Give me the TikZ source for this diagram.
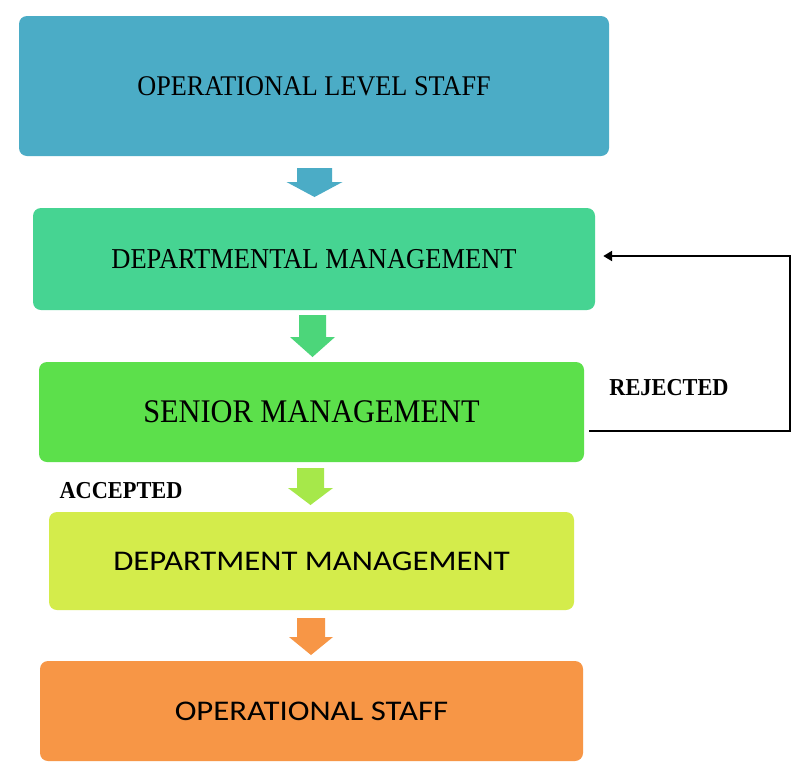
\documentclass[tikz,border=0pt]{standalone}
\usepackage{fontspec}
\setmainfont[FakeStretch=0.92]{Liberation Serif}
\newfontfamily\sansw[FakeStretch=1.15]{Carlito}
\usetikzlibrary{arrows.meta,calc}
\definecolor{cBoxA}{HTML}{4BACC6}
\definecolor{cBoxB}{HTML}{46D492}
\definecolor{cBoxC}{HTML}{5CE04B}
\definecolor{cBoxD}{HTML}{D4EC4B}
\definecolor{cBoxE}{HTML}{F79646}
\definecolor{cArrB}{HTML}{4CD67A}
\definecolor{cArrC}{HTML}{A6E84A}
\tikzset{
  box/.style={rounded corners=8pt, inner sep=0pt, text=black, align=center},
  fb/.style={line width=2.8pt, -{Triangle[length=9pt,width=10pt]}},
  lbl/.style={font=\bfseries\fontsize{24.3}{26}\selectfont, inner sep=0pt, text=black}
}
\newcommand\blkarrow[7]{%
  \fill[#1] (#2-#6,#3) -- (#2+#6,#3) -- (#2+#6,#4) -- (#2+#7,#4) -- (#2,#5)
    -- (#2-#7,#4) -- (#2-#6,#4) -- cycle;}
\begin{document}
\begin{tikzpicture}[x=1pt,y=-1pt]
\useasboundingbox[fill=white] (0,0) rectangle (805,774);
\node[box, fill=cBoxA, minimum width=590pt, minimum height=140pt,
  font=\fontsize{28.5}{30}\selectfont] (b1) at (314,86) {OPERATIONAL LEVEL STAFF};
\node[box, fill=cBoxB, minimum width=562pt, minimum height=102pt,
  font=\fontsize{28.8}{30}\selectfont] (b2) at (314,259) {DEPARTMENTAL MANAGEMENT};
\node[box, fill=cBoxC, minimum width=545pt, minimum height=100pt,
  font=\fontsize{33}{35}\selectfont] (b3) at (311.5,412) {SENIOR MANAGEMENT};
\node[box, fill=cBoxD, minimum width=525pt, minimum height=98pt,
  font=\sansw\fontsize{28.5}{30}\selectfont] (b4) at (311.5,561) {DEPARTMENT MANAGEMENT};
\node[box, fill=cBoxE, minimum width=543pt, minimum height=100pt,
  font=\sansw\fontsize{28.5}{30}\selectfont] (b5) at (311.5,711) {OPERATIONAL STAFF};
\blkarrow{cBoxA}{314.5}{168}{182}{197}{17.5}{28}
\blkarrow{cArrB}{312.5}{315}{337}{357}{13.5}{22.5}
\blkarrow{cArrC}{310.5}{468}{488}{505}{13.5}{22.5}
\blkarrow{cBoxE}{311}{618}{637}{655}{14}{22}
\coordinate (fbs) at ($(b3.east)+(5,19)$);
\coordinate (fbe) at ($(b2.east)+(8,-3)$);
\draw[fb] (fbs) -- (790,431) -- (790,256) -- (fbe);
\node[lbl] (rej) at (669,388) {REJECTED};
\node[lbl] (acc) at (121,491) {ACCEPTED};
\end{tikzpicture}
\end{document}
